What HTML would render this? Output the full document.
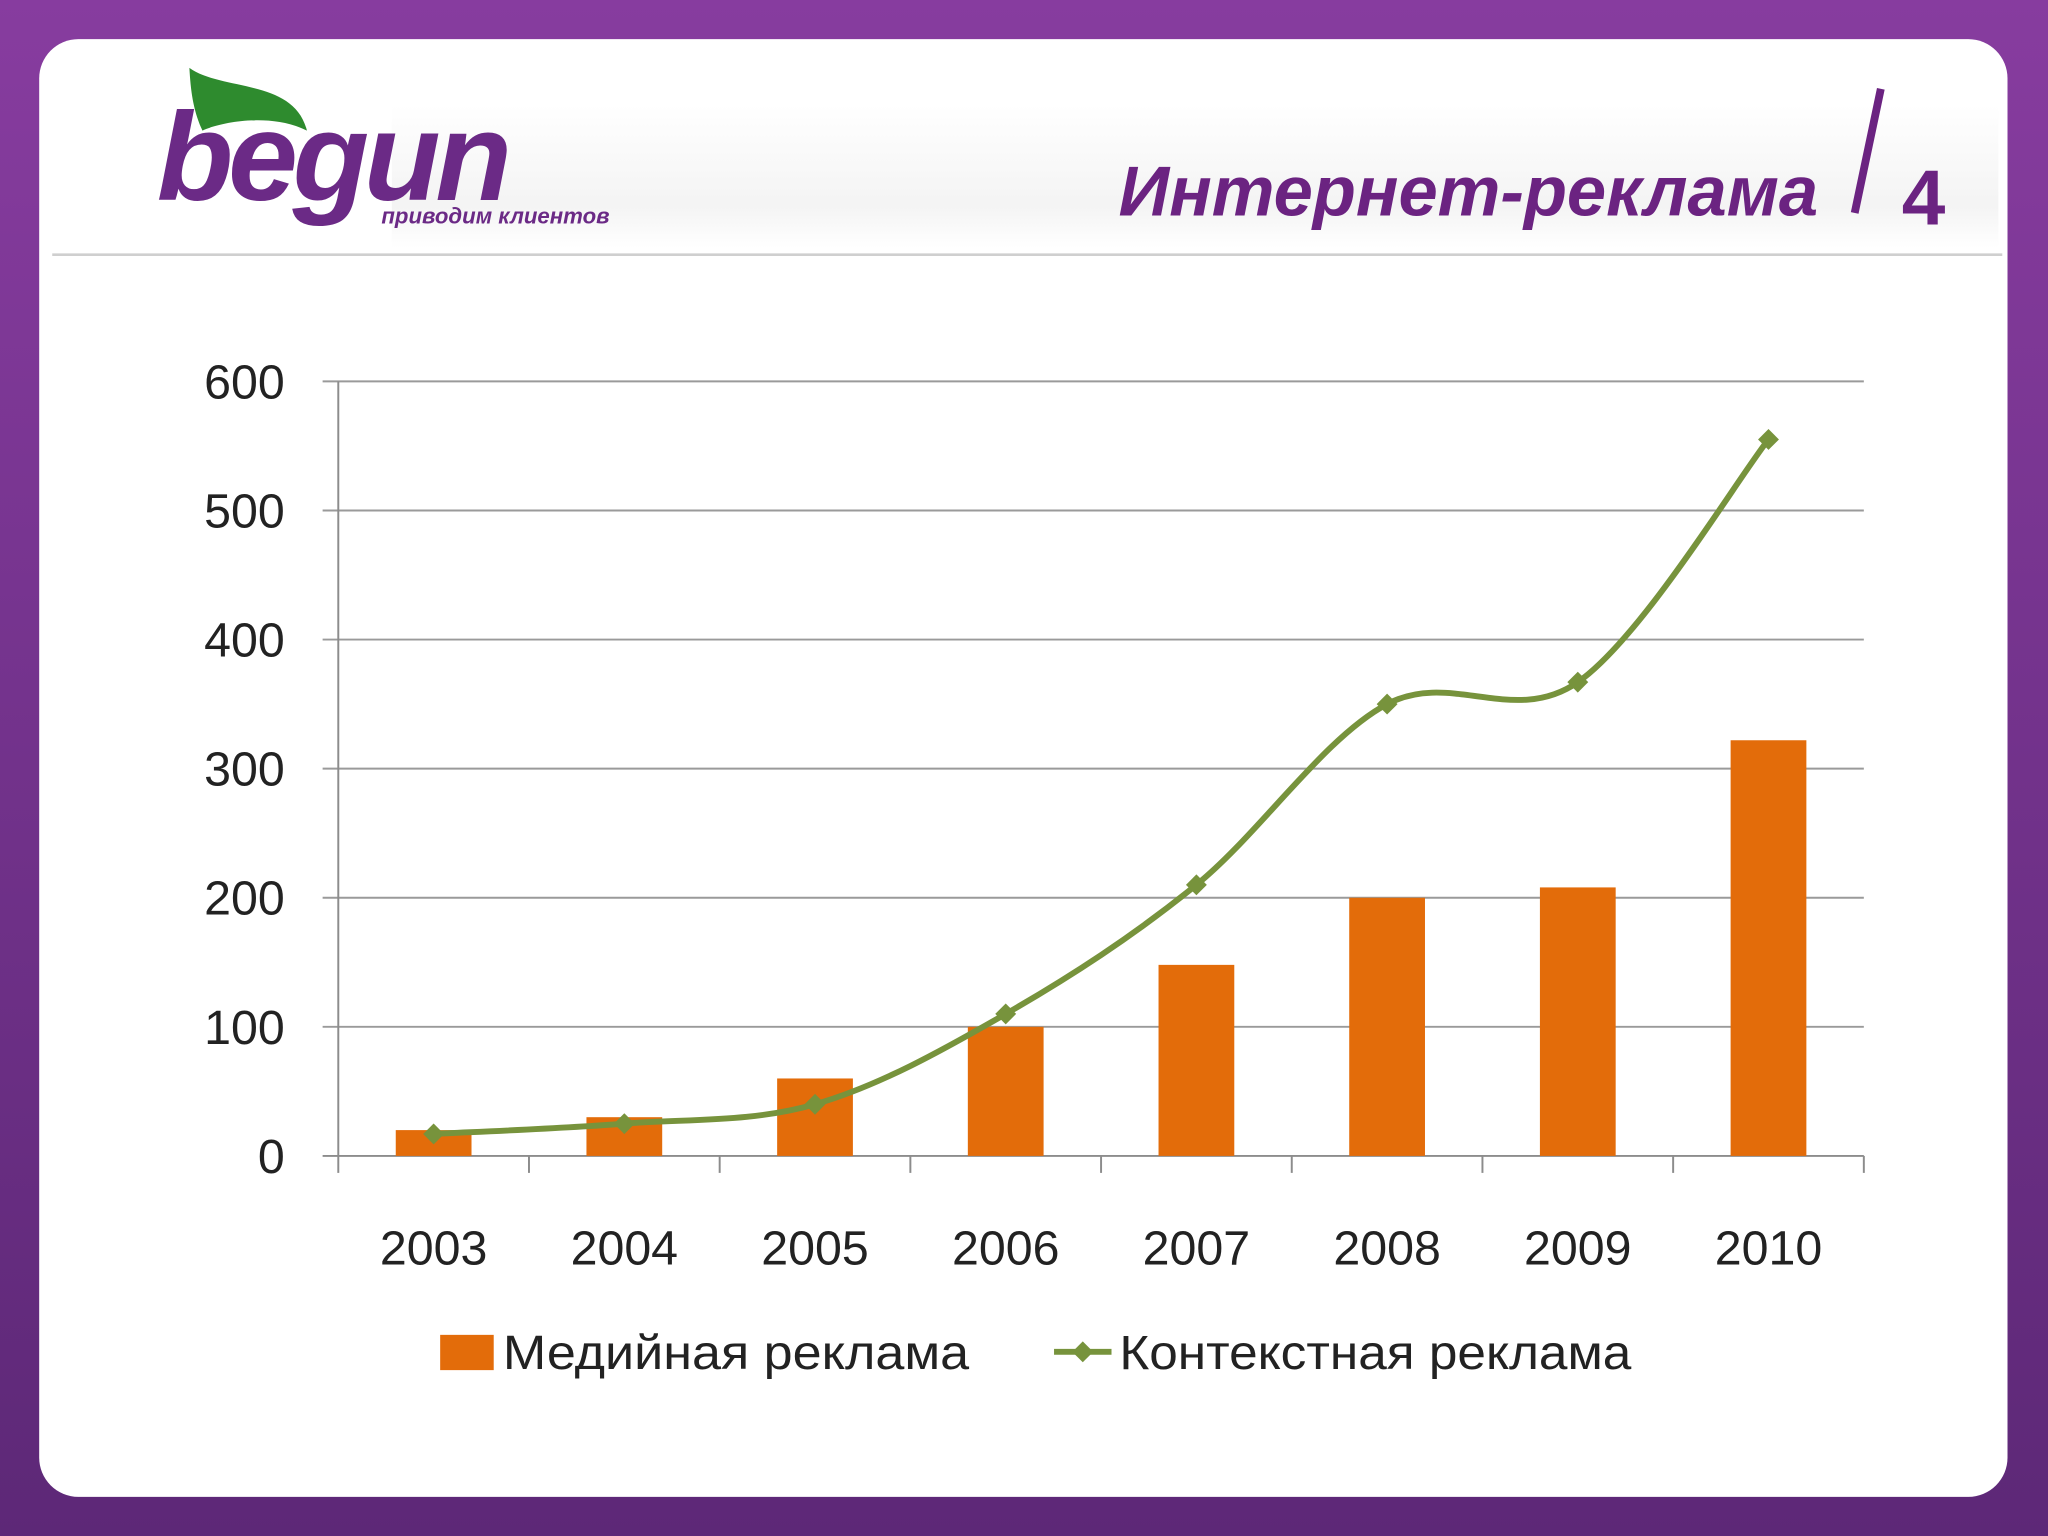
<!DOCTYPE html>
<html><head><meta charset="utf-8"><style>
html,body{margin:0;padding:0;width:2048px;height:1536px;overflow:hidden}
#wrap{width:1568px;height:1176px;transform:scale(1.306122);transform-origin:0 0;position:relative;background:linear-gradient(#873c9f,#5d2877);font-family:"Liberation Sans","DejaVu Sans",sans-serif}
#card{position:absolute;left:30px;top:30px;width:1507px;height:1116px;background:#fff;border-radius:30px}
</style></head><body>
<div id="wrap">
<div id="card"></div>
<svg width="1568" height="1176" style="position:absolute;left:0;top:0">
<defs><linearGradient id="hdr" x1="0" y1="0" x2="0" y2="1"><stop offset="0" stop-color="#fff"/><stop offset="0.7" stop-color="#ececec"/><stop offset="1" stop-color="#fff"/></linearGradient></defs>
<rect x="300" y="80" width="1230" height="110" fill="url(#hdr)" opacity="0.6"/>
<line x1="40" y1="195" x2="1533" y2="195" stroke="#cfcfcf" stroke-width="2"/>
<g>
<path d="M145,52 C170,70 225,60 235,100 C205,85 165,95 155,100 C148,85 146,70 145,52Z" fill="#2e8b2e"/>
<text x="120" y="153" font-size="96" font-weight="bold" font-style="italic" fill="#6b2a86" letter-spacing="-4">begun</text>
<text x="292" y="171" font-size="17" font-weight="bold" font-style="italic" fill="#6b2a86">приводим клиентов</text>
</g>
<text x="1392" y="165" text-anchor="end" font-size="54" font-weight="bold" font-style="italic" fill="#6b2381">Интернет-реклама</text>
<line x1="1440" y1="68" x2="1420" y2="163" stroke="#6b2381" stroke-width="6"/>
<text x="1456" y="172" font-size="60" font-weight="bold" fill="#6b2381">4</text>
<g id="chart"></g>
</svg>
</div>
<script>
const categories=["2003","2004","2005","2006","2007","2008","2009","2010"];
const mediaValues=[20,30,60,100,148,200,208,322];
const contextValues=[17,25,40,110,210,350,367,555];
const yTicks=[0,100,200,300,400,500,600];
const seriesNames=["Медийная реклама","Контекстная реклама"];
const NS="http://www.w3.org/2000/svg";
const g=document.getElementById('chart');
const L=259,R=1427,T=292,B=885,YMAX=600;
const y=v=>B-(v/YMAX)*(B-T);
const bw=(R-L)/categories.length;
const xc=i=>L+bw*(i+0.5);
function mk(tag,attrs,parent){const e=document.createElementNS(NS,tag);for(const k in attrs)e.setAttribute(k,attrs[k]);(parent||g).appendChild(e);return e;}
yTicks.forEach(t=>{
 const l=mk('line',{x1:L-12,x2:R,y1:y(t),y2:y(t),stroke:t===0?'#8c8c8c':'#9a9a9a','stroke-width':1.5});
 
 
 const tx=mk('text',{x:218,y:y(t)+13,'text-anchor':'end','font-size':37,fill:'#222'});
 tx.textContent=t;
 
 
});
const ax=mk('line',{x1:L,x2:L,y1:T,y2:B,stroke:'#8c8c8c','stroke-width':1.5});


for(let i=0;i<=categories.length;i++){
 const t=mk('line',{x1:L+bw*i,x2:L+bw*i,y1:B,y2:B+13,stroke:'#8c8c8c','stroke-width':1.5});
 
 
}
categories.forEach((c,i)=>{
 const tx=mk('text',{x:xc(i),y:968,'text-anchor':'middle','font-size':37,fill:'#222'});
 tx.textContent=c;
 
 
 const r=mk('rect',{x:xc(i)-29,y:y(mediaValues[i]),width:58,height:B-y(mediaValues[i]),fill:'#e36c0a'});
 
 
});
const pts=contextValues.map((v,i)=>[xc(i),y(v)]);
let d='M'+pts[0][0]+','+pts[0][1];
for(let i=0;i<pts.length-1;i++){
 const p0=pts[Math.max(0,i-1)],p1=pts[i],p2=pts[i+1],p3=pts[Math.min(pts.length-1,i+2)];
 const c1=[p1[0]+(p2[0]-p0[0])/6,p1[1]+(p2[1]-p0[1])/6],c2=[p2[0]-(p3[0]-p1[0])/6,p2[1]-(p3[1]-p1[1])/6];
 d+=` C${c1[0]},${c1[1]} ${c2[0]},${c2[1]} ${p2[0]},${p2[1]}`;
}
const ln=mk('path',{d:d,fill:'none',stroke:'#77933c','stroke-width':4.5});


pts.forEach((p,i)=>{
 const m=mk('path',{d:`M${p[0]},${p[1]-8} L${p[0]+8},${p[1]} L${p[0]},${p[1]+8} L${p[0]-8},${p[1]}Z`,fill:'#77933c'});
 
 
});
const lg=mk('g',{});


const s1=mk('rect',{x:337,y:1022,width:41,height:27,fill:'#e36c0a'},lg);


const t1=mk('text',{x:385,y:1048,'font-size':37,fill:'#222',textLength:357,lengthAdjust:'spacingAndGlyphs'},lg);
t1.textContent=seriesNames[0];


const s2=mk('line',{x1:807,x2:851,y1:1035,y2:1035,stroke:'#77933c','stroke-width':4.5},lg);


const s3=mk('path',{d:'M829,1027 L837,1035 L829,1043 L821,1035Z',fill:'#77933c'},lg);


const t2=mk('text',{x:857,y:1048,'font-size':37,fill:'#222',textLength:392,lengthAdjust:'spacingAndGlyphs'},lg);
t2.textContent=seriesNames[1];


</script>
</body></html>
